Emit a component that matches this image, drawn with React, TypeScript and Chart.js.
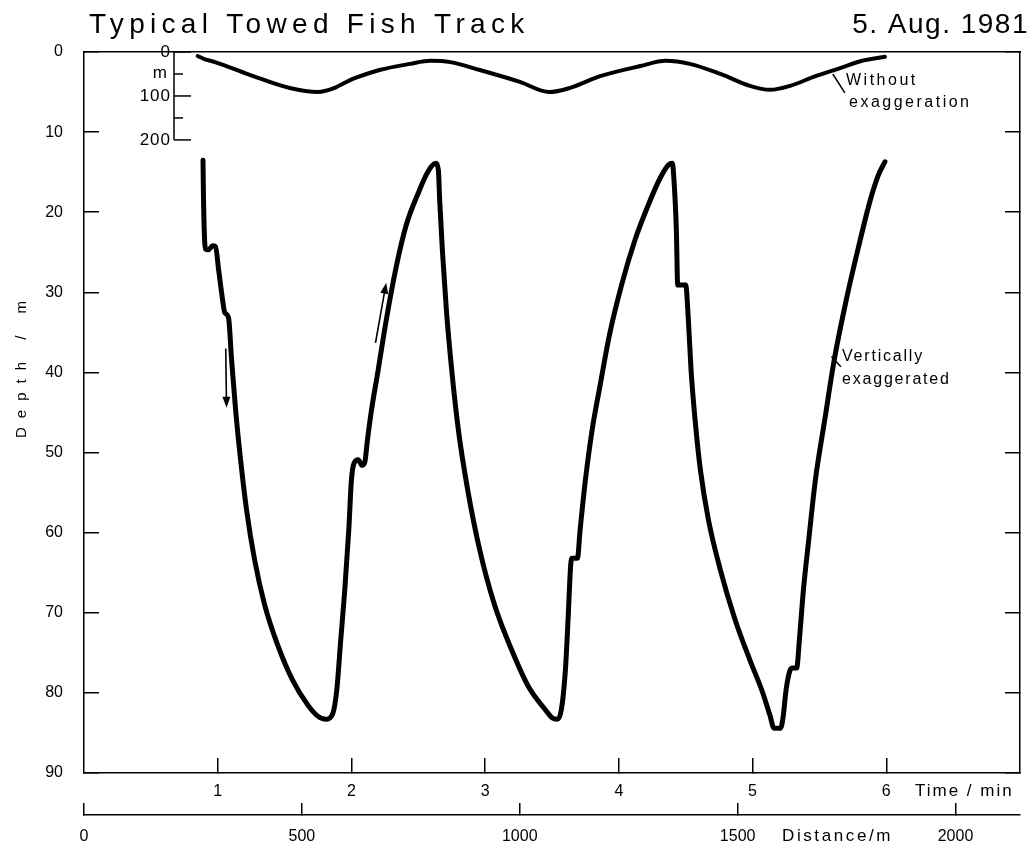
import React, { useEffect, useRef } from 'react';
import { Chart, registerables } from 'chart.js';

Chart.register(...registerables);

const FONT = '"Liberation Sans", Arial, Helvetica, sans-serif';

// Vertically exaggerated track: time (min) and depth (m)
const trackTime = [
  0.89, 0.894, 0.902, 0.909, 0.93, 0.962, 0.984, 1.007, 1.037, 1.052, 1.081, 1.104, 1.134, 1.171,
  1.216, 1.276, 1.351, 1.448, 1.56, 1.673, 1.748, 1.808, 1.86, 1.89, 1.92, 1.95, 1.98, 2.0, 2.02,
  2.05, 2.08, 2.1, 2.12, 2.15, 2.2, 2.26, 2.33, 2.41, 2.5, 2.57, 2.63, 2.65, 2.66, 2.68, 2.71, 2.75,
  2.8, 2.87, 2.96, 3.07, 3.2, 3.33, 3.45, 3.5, 3.54, 3.57, 3.6, 3.62, 3.64, 3.65, 3.69, 3.71, 3.75,
  3.8, 3.86, 3.93, 4.02, 4.12, 4.22, 4.31, 4.37, 4.4, 4.41, 4.43, 4.44, 4.5, 4.52, 4.54, 4.57, 4.61,
  4.67, 4.76, 4.87, 4.98, 5.07, 5.13, 5.16, 5.21, 5.23, 5.25, 5.28, 5.3, 5.33, 5.35, 5.38, 5.42,
  5.47, 5.54, 5.61, 5.7, 5.79, 5.88, 5.94, 5.99,
];
const trackDepth = [
  13.5, 18.5, 23.5, 24.6, 24.7, 24.2, 24.3, 27.2, 31.0, 32.5, 33.2, 38.5, 44.7, 50.9,
  57.2, 63.4, 69.0, 74.0, 78.4, 81.5, 82.9, 83.3, 82.6, 79.7, 73.4, 67.2, 59.7, 53.4, 51.3,
  50.9, 51.6, 51.2, 48.4, 44.7, 39.7, 33.5, 27.2, 21.6, 17.6, 15.0, 13.9, 14.7, 18.5, 24.7, 32.2, 39.7,
  47.2, 54.7, 62.2, 69.0, 74.7, 79.4, 82.1, 83.1, 83.3, 82.1, 77.2, 70.9, 64.0, 63.2, 63.2, 59.7, 53.4,
  47.2, 41.6, 35.3, 29.1, 23.5, 19.1, 15.7, 14.1, 13.9, 15.4, 22.2, 29.1, 29.1, 33.5, 39.7, 45.9, 52.2,
  58.4, 64.7, 70.9, 75.9, 79.7, 82.8, 84.4, 84.4, 82.8, 79.7, 77.2, 76.9, 76.9, 73.4, 67.2, 60.9,
  53.4, 45.9, 38.5, 31.0, 24.5, 18.5, 15.4, 13.7,
];

// Same track drawn to true scale (inset, depth 0-200 m)
const insetTime = [
  0.85, 0.9, 0.98, 1.24, 1.54, 1.75, 1.87, 1.99, 2.03, 2.21, 2.44, 2.59, 2.74, 2.96, 3.26, 3.48,
  3.63, 3.86, 4.16, 4.35, 4.53, 4.76, 4.98, 5.13, 5.28, 5.47, 5.66, 5.82, 5.99,
];
const insetDepth = [
  9, 16, 23, 52, 82, 91, 82, 64, 59, 41, 27, 20, 23, 41, 68, 91,
  82, 55, 32, 20, 27, 50, 77, 86, 77, 55, 36, 20, 11,
];

// Axis ticks
const depthTicks = [0, 10, 20, 30, 40, 50, 60, 70, 80, 90];
const timeTicks = [1, 2, 3, 4, 5, 6];
const distanceTicks = [0, 500, 1000, 1500, 2000];
const insetTicks = [0, 100, 200];
const insetMinorTicks = [50, 150];

const TITLE = 'Typical Towed Fish Track';
const DATE_LABEL = '5. Aug. 1981';

const TIME_MAX = 7;
const DEPTH_MAX = 90;
// Distance towed over TIME_MAX minutes
const DISTANCE_MAX = 2148;
// The 0-200 m inset scale fills the top eighth of the plot
const INSET_SCALE_MAX = 1640;

function drawArrow(ctx: CanvasRenderingContext2D, x1: number, y1: number, x2: number, y2: number) {
  const ang = Math.atan2(y2 - y1, x2 - x1);
  const head = 11;
  const half = 4;
  ctx.beginPath();
  ctx.moveTo(x1, y1);
  ctx.lineTo(x2 - Math.cos(ang) * head * 0.6, y2 - Math.sin(ang) * head * 0.6);
  ctx.lineWidth = 1.6;
  ctx.stroke();
  const bx = x2 - Math.cos(ang) * head;
  const by = y2 - Math.sin(ang) * head;
  ctx.beginPath();
  ctx.moveTo(x2, y2);
  ctx.lineTo(bx + Math.sin(ang) * half, by - Math.cos(ang) * half);
  ctx.lineTo(bx - Math.sin(ang) * half, by + Math.cos(ang) * half);
  ctx.closePath();
  ctx.fill();
}

const labelsPlugin = {
  id: 'fishTrackLabels',
  afterDraw(chart: any) {
    const { ctx, chartArea, scales } = chart;
    const xs = scales.x;
    const ys = scales.y;
    const yi = scales.yInset;
    const c = ctx as CanvasRenderingContext2D;
    c.save();
    c.fillStyle = '#000';
    c.strokeStyle = '#000';

    // Heading
    c.font = `28px ${FONT}`;
    c.textBaseline = 'alphabetic';
    c.textAlign = 'left';
    (c as any).letterSpacing = '5.3px';
    c.fillText(TITLE, 89, 33);
    (c as any).letterSpacing = '1.5px';
    c.textAlign = 'right';
    c.fillText(DATE_LABEL, 1029, 33);

    // Depth axis title
    c.save();
    c.translate(22, 365);
    c.rotate(-Math.PI / 2);
    c.font = `15px ${FONT}`;
    (c as any).letterSpacing = '9px';
    c.textAlign = 'center';
    c.textBaseline = 'middle';
    c.fillText('Depth / m', 0, 0);
    c.restore();

    // Inset depth axis (true scale)
    const ix = chartArea.left + 90;
    c.lineWidth = 1.5;
    c.beginPath();
    c.moveTo(ix, yi.getPixelForValue(0));
    c.lineTo(ix, yi.getPixelForValue(200));
    c.stroke();
    insetTicks.forEach((v) => {
      const py = yi.getPixelForValue(v);
      c.beginPath();
      c.moveTo(ix, py);
      c.lineTo(ix + 17, py);
      c.stroke();
    });
    insetMinorTicks.forEach((v) => {
      const py = yi.getPixelForValue(v);
      c.beginPath();
      c.moveTo(ix, py);
      c.lineTo(ix + 9, py);
      c.stroke();
    });
    c.font = `17px ${FONT}`;
    (c as any).letterSpacing = '1px';
    c.textAlign = 'right';
    c.textBaseline = 'middle';
    insetTicks.forEach((v) => {
      c.fillText(String(v), ix - 3, yi.getPixelForValue(v));
    });
    c.fillText('m', ix - 6, yi.getPixelForValue(48));

    // Axis names
    c.textAlign = 'left';
    c.font = `17px ${FONT}`;
    (c as any).letterSpacing = '2px';
    c.fillText('Time / min', 915, 791);
    (c as any).letterSpacing = '2.6px';
    c.fillText('Distance/m', 782, 836);

    // Track annotations
    c.font = `16px ${FONT}`;
    (c as any).letterSpacing = '2.5px';
    c.lineWidth = 1.5;
    c.beginPath();
    c.moveTo(xs.getPixelForValue(5.6), yi.getPixelForValue(50));
    c.lineTo(xs.getPixelForValue(5.69), yi.getPixelForValue(93));
    c.stroke();
    c.fillText('Without', 846, 81);
    c.fillText('exaggeration', 849, 103);

    c.beginPath();
    c.moveTo(xs.getPixelForValue(5.59), ys.getPixelForValue(38.0));
    c.lineTo(xs.getPixelForValue(5.66), ys.getPixelForValue(39.3));
    c.stroke();
    (c as any).letterSpacing = '1.8px';
    c.fillText('Vertically', 842, 357);
    c.fillText('exaggerated', 842, 380);

    // Direction of travel
    drawArrow(c, xs.getPixelForValue(1.06), ys.getPixelForValue(37.0), xs.getPixelForValue(1.066), ys.getPixelForValue(44.4));
    drawArrow(c, xs.getPixelForValue(2.18), ys.getPixelForValue(36.3), xs.getPixelForValue(2.26), ys.getPixelForValue(28.8));

    c.restore();
  },
};

const axisLine = { display: true, color: '#000', width: 1.5 };

export default function App() {
  const canvasRef = useRef<HTMLCanvasElement>(null);

  useEffect(() => {
    if (!canvasRef.current) return;
    const chart = new Chart(canvasRef.current, {
      type: 'line',
      data: {
        datasets: [
          {
            label: 'Vertically exaggerated',
            data: trackTime.map((t, i) => ({ x: t, y: trackDepth[i] })),
            xAxisID: 'x',
            yAxisID: 'y',
            borderColor: '#000',
            borderWidth: 5,
            pointRadius: 0,
            cubicInterpolationMode: 'monotone',
            borderJoinStyle: 'round',
            borderCapStyle: 'round',
            fill: false,
          },
          {
            label: 'Without exaggeration',
            data: insetTime.map((t, i) => ({ x: t, y: insetDepth[i] })),
            xAxisID: 'x',
            yAxisID: 'yInset',
            borderColor: '#000',
            borderWidth: 4,
            pointRadius: 0,
            cubicInterpolationMode: 'monotone',
            borderJoinStyle: 'round',
            borderCapStyle: 'round',
            fill: false,
          },
        ],
      },
      options: {
        animation: false,
        responsive: false,
        devicePixelRatio: 1,
        layout: { padding: 0 },
        plugins: {
          legend: { display: false },
          tooltip: { enabled: false },
          title: { display: false },
        },
        scales: {
          x: {
            type: 'linear',
            position: 'bottom',
            weight: 0,
            min: 0,
            max: TIME_MAX,
            afterBuildTicks: (s: any) => {
              s.ticks = timeTicks.map((v) => ({ value: v }));
            },
            afterFit: (s: any) => {
              s.height = 42;
            },
            ticks: {
              callback: (v: any) => String(v),
              font: { family: FONT, size: 16 },
              color: '#000',
              padding: 24,
              maxRotation: 0,
              autoSkip: false,
            },
            grid: { display: true, drawOnChartArea: false, drawTicks: true, tickLength: -15, color: '#000', lineWidth: 1.5 },
            border: axisLine,
          },
          xDist: {
            type: 'linear',
            position: 'bottom',
            weight: 1,
            min: 0,
            max: DISTANCE_MAX,
            afterBuildTicks: (s: any) => {
              s.ticks = distanceTicks.map((v) => ({ value: v }));
            },
            afterFit: (s: any) => {
              s.height = 30;
            },
            ticks: {
              callback: (v: any) => String(v),
              font: { family: FONT, size: 16 },
              color: '#000',
              padding: 24,
              maxRotation: 0,
              autoSkip: false,
            },
            grid: { display: true, drawOnChartArea: false, drawTicks: true, tickLength: -12, color: '#000', lineWidth: 1.5 },
            border: axisLine,
          },
          xTop: {
            type: 'linear',
            position: 'top',
            min: 0,
            max: TIME_MAX,
            afterFit: (s: any) => {
              s.height = 52;
            },
            ticks: { display: false },
            grid: { display: false },
            border: axisLine,
          },
          y: {
            type: 'linear',
            position: 'left',
            min: 0,
            max: DEPTH_MAX,
            reverse: true,
            afterBuildTicks: (s: any) => {
              s.ticks = depthTicks.map((v) => ({ value: v }));
            },
            afterFit: (s: any) => {
              s.width = 84;
            },
            ticks: {
              callback: (v: any) => String(v),
              font: { family: FONT, size: 16 },
              color: '#000',
              padding: 36,
              autoSkip: false,
            },
            grid: { display: true, drawOnChartArea: false, drawTicks: true, tickLength: -15, color: '#000', lineWidth: 1.5 },
            border: axisLine,
          },
          yRight: {
            type: 'linear',
            position: 'right',
            min: 0,
            max: DEPTH_MAX,
            reverse: true,
            afterBuildTicks: (s: any) => {
              s.ticks = depthTicks.map((v) => ({ value: v }));
            },
            afterFit: (s: any) => {
              s.width = 9;
            },
            ticks: { display: false },
            grid: { display: true, drawOnChartArea: false, drawTicks: true, tickLength: -15, color: '#000', lineWidth: 1.5 },
            border: axisLine,
          },
          yInset: {
            type: 'linear',
            display: false,
            min: 0,
            max: INSET_SCALE_MAX,
            reverse: true,
          },
        },
      } as any,
      plugins: [labelsPlugin],
    });
    return () => chart.destroy();
  }, []);

  return (
    <div style={{ position: 'absolute', left: 0, top: 0, width: 1029, height: 845, background: '#fff' }}>
      <canvas ref={canvasRef} width={1029} height={845} style={{ display: 'block' }} />
    </div>
  );
}
